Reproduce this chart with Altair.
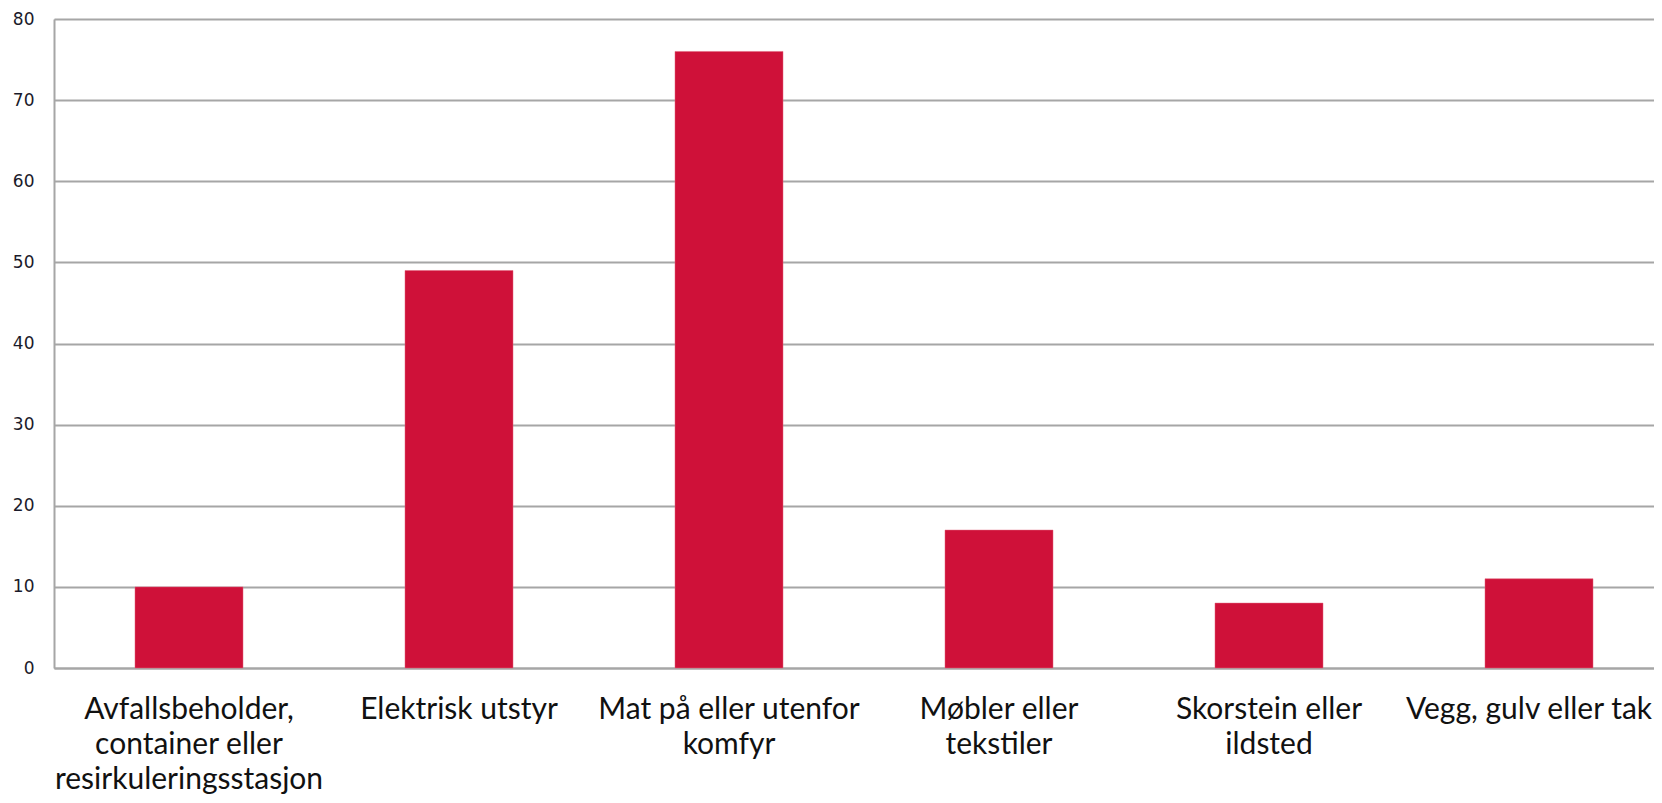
import altair as alt
import pandas as pd

categories = [
    "Avfallsbeholder,\ncontainer eller\nresirkuleringsstasjon",
    "Elektrisk utstyr",
    "Mat på eller utenfor\nkomfyr",
    "Møbler eller\ntekstiler",
    "Skorstein eller\nildsted",
    "Vegg, gulv eller tak",
]
values = [10, 49, 76, 17, 8, 11]
y_ticks = [0, 10, 20, 30, 40, 50, 60, 70, 80]

df = pd.DataFrame({"kategori": categories, "antall": values})

chart = (
    alt.Chart(df)
    .mark_bar(color="#CF1139", stroke="#E0607A", strokeWidth=0.5)
    .encode(
        x=alt.X(
            "kategori:N",
            sort=categories,
            title=None,
            scale=alt.Scale(range=[0, 1620], paddingInner=0.6, paddingOuter=0.3),
            axis=alt.Axis(
                labelAngle=0,
                labelExpr="split(datum.label, '\\n')",
                labelFont="Lato",
                labelFontSize=30,
                labelColor="#111111",
                labelLineHeight=35,
                labelPadding=26,
                labelBaseline="top",
                labelOffset={
                    "condition": {
                        "test": "datum.value == 'Vegg, gulv eller tak'",
                        "value": -10,
                    },
                    "value": 0,
                },
                ticks=False,
                domainColor="#A6A6A6",
                domainWidth=2,
                grid=False,
                labelLimit=0,
            ),
        ),
        y=alt.Y(
            "antall:Q",
            title=None,
            scale=alt.Scale(domain=[0, 80], nice=False),
            axis=alt.Axis(
                values=y_ticks,
                labelFont="DejaVu Sans",
                labelFontSize=17,
                labelColor="#1a1a2a",
                labelPadding=20,
                ticks=False,
                domainColor="#A6A6A6",
                domainWidth=2,
                gridColor="#A6A6A6",
                gridWidth=2,
            ),
        ),
    )
    .properties(
        width=1600,
        height=649,
        autosize=alt.AutoSizeParams(type="none"),
        padding={"left": 46, "top": 11, "right": 0, "bottom": 127},
    )
    .configure_view(stroke=None)
    .configure(background="white")
)

chart.save("out.html", embed_options={"renderer": "svg", "actions": False})
